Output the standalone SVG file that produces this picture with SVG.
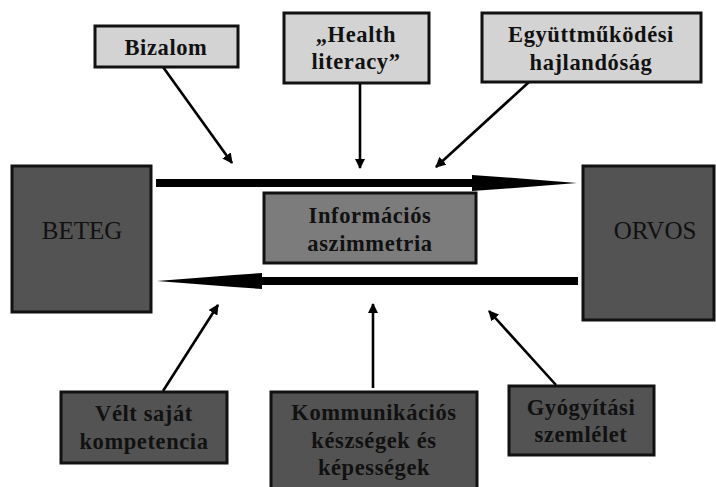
<svg xmlns="http://www.w3.org/2000/svg" width="716" height="487" viewBox="0 0 716 487">
<defs>
<marker id="ah" viewBox="0 0 10 10" refX="9" refY="5" markerWidth="4" markerHeight="4" orient="auto" markerUnits="strokeWidth">
<path d="M0,0 L10,5 L0,10 z" fill="#000"/>
</marker>
<style>
.light{fill:#d3d3d3;stroke:#111;stroke-width:3}
.dark{fill:#535353;stroke:#111;stroke-width:3}
.mid{fill:#7c7c7c;stroke:#111;stroke-width:3}
.t{font-family:"Liberation Serif","Times New Roman",serif;font-weight:bold;font-size:22.5px;fill:#111;text-anchor:middle;letter-spacing:0.6px}
.big{font-family:"Liberation Serif","Times New Roman",serif;font-size:25px;fill:#111;text-anchor:middle}
.c{stroke:#000;stroke-width:2.6;fill:none;marker-end:url(#ah)}
</style>
</defs>
<rect width="716" height="487" fill="#fff"/>
<g id="connectors">
<line class="c" x1="163" y1="67" x2="232" y2="163"/>
<line class="c" x1="360" y1="83" x2="360" y2="168"/>
<line class="c" x1="529" y1="82" x2="436" y2="167"/>
<line class="c" x1="163" y1="391" x2="218" y2="305"/>
<line class="c" x1="373" y1="388" x2="373" y2="304"/>
<line class="c" x1="556" y1="385" x2="489" y2="311"/>
<g id="arrow-top">
<rect x="156" y="179" width="318" height="8" fill="#000"/>
<polygon points="472,175 500,177 577,183 500,189 472,191" fill="#000"/>
</g>
<g id="arrow-bottom">
<rect x="260" y="277" width="318" height="8" fill="#000"/>
<polygon points="262,273 234,275 157,281 234,287 262,289" fill="#000"/>
</g>
</g>
<g id="beteg">
<rect class="dark" x="12" y="166" width="139" height="146"/>
<text class="big" x="82" y="239">BETEG</text>
</g>
<g id="orvos">
<rect class="dark" x="583" y="166" width="131" height="154"/>
<text class="big" x="655" y="239">ORVOS</text>
</g>
<g id="info">
<rect class="mid" x="264" y="193" width="212" height="70"/>
<text class="t" x="370" y="223">Információs</text>
<text class="t" x="370" y="251">aszimmetria</text>
</g>
<g id="bizalom">
<rect class="light" x="95" y="26" width="143" height="41"/>
<text class="t" x="166" y="55">Bizalom</text>
</g>
<g id="health">
<rect class="light" x="284" y="13" width="145" height="70"/>
<text class="t" x="356" y="42">„Health</text>
<text class="t" x="356" y="69">literacy”</text>
</g>
<g id="egyutt">
<rect class="light" x="482" y="13" width="219" height="69"/>
<text class="t" x="591" y="42">Együttműködési</text>
<text class="t" x="591" y="70">hajlandóság</text>
</g>
<g id="velt">
<rect class="dark" x="61" y="392" width="166" height="71"/>
<text class="t" x="144" y="421">Vélt saját</text>
<text class="t" x="144" y="449">kompetencia</text>
</g>
<g id="komm">
<rect class="dark" x="271" y="392" width="206" height="100"/>
<text class="t" x="374" y="420">Kommunikációs</text>
<text class="t" x="374" y="448">készségek és</text>
<text class="t" x="374" y="475">képességek</text>
</g>
<g id="gyogy">
<rect class="dark" x="509" y="386" width="145" height="69"/>
<text class="t" x="581" y="415">Gyógyítási</text>
<text class="t" x="581" y="442">szemlélet</text>
</g>
</svg>
